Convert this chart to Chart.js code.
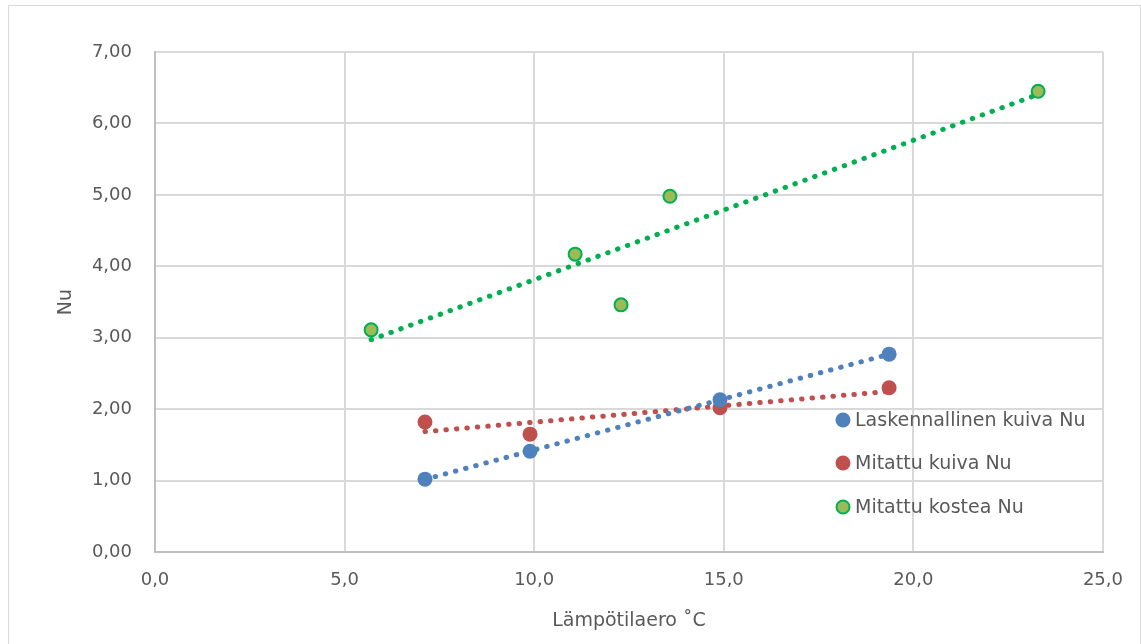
<!DOCTYPE html>
<html>
<head>
<meta charset="utf-8">
<script src="https://cdn.jsdelivr.net/npm/chart.js@4/dist/chart.umd.min.js"></script>
<style>
    body { margin: 0; background: #fff; }
    #frame { position: absolute; left: 8px; top: 5px; width: 1131px; height: 660px; border: 1px solid #d9d9d9; }
    #wrap { position: absolute; left: 0; top: 0; width: 1141px; height: 644px; }
</style>
</head>
<body>
<div id="frame"></div>
<div id="wrap"><canvas id="chart" width="1141" height="644"></canvas></div>
<script>
// series names
const seriesNames = ["Laskennallinen kuiva Nu", "Mitattu kuiva Nu", "Mitattu kostea Nu"];

// Laskennallinen kuiva Nu
const calcX = [7.12, 9.89, 14.90, 19.36];
const calcY = [1.02, 1.41, 2.13, 2.77];

// Mitattu kuiva Nu
const dryX = [7.12, 9.89, 14.90, 19.36];
const dryY = [1.82, 1.65, 2.02, 2.30];

// Mitattu kostea Nu
const wetX = [5.70, 11.08, 12.29, 13.58, 23.29];
const wetY = [3.11, 4.17, 3.46, 4.98, 6.45];

// axes
const xTicks = [0, 5, 10, 15, 20, 25];
const yTicks = [0, 1, 2, 3, 4, 5, 6, 7];
const xTitle = "Lämpötilaero ˚C";
const yTitle = "Nu";

const textColor = "#595959";
const fontFamily = "'DejaVu Sans', sans-serif";

function toPoints(xs, ys) {
    return xs.map((x, i) => ({ x: x, y: ys[i] }));
}

// linear trendline (least squares), over the range of the data like Excel
function trend(xs, ys) {
    let n = xs.length;
    let mx = xs.reduce((a, b) => a + b, 0) / n;
    let my = ys.reduce((a, b) => a + b, 0) / n;
    let sxy = 0, sxx = 0;
    for (let i = 0; i < n; i++) {
        sxy += (xs[i] - mx) * (ys[i] - my);
        sxx += (xs[i] - mx) * (xs[i] - mx);
    }
    let k = sxy / sxx;
    let x0 = Math.min(...xs), x1 = Math.max(...xs);
    return [{ x: x0, y: my + k * (x0 - mx) }, { x: x1, y: my + k * (x1 - mx) }];
}

function trendSet(points, color) {
    return {
        type: "line",
        data: points,
        showLine: true,
        borderColor: color,
        borderWidth: 5,
        borderDash: [0.5, 10],
        borderCapStyle: "round",
        pointRadius: 0,
        pointHoverRadius: 0,
        fill: false,
        order: 2
    };
}

const colors = {
    calc: "#4f81bd",
    dry: "#c0504d",
    wetFill: "#9bbb59",
    wetLine: "#00b050"
};

const markers = [
    { fill: colors.calc, stroke: colors.calc, width: 0 },
    { fill: colors.dry, stroke: colors.dry, width: 0 },
    { fill: colors.wetFill, stroke: colors.wetLine, width: 2 }
];

// legend drawn inside the plot area, right side
const legendPlugin = {
    id: "insideLegend",
    afterDraw(chart) {
        let ctx = chart.ctx;
        let x = 843;
        let rows = [420, 463, 507];
        ctx.save();
        ctx.font = "19px " + fontFamily;
        ctx.textBaseline = "middle";
        ctx.textAlign = "left";
        for (let i = 0; i < seriesNames.length; i++) {
            let m = markers[i];
            ctx.beginPath();
            ctx.arc(x, rows[i], m.width ? 6.5 : 7.5, 0, Math.PI * 2);
            ctx.fillStyle = m.fill;
            ctx.fill();
            if (m.width) {
                ctx.lineWidth = m.width;
                ctx.strokeStyle = m.stroke;
                ctx.stroke();
            }
            ctx.fillStyle = textColor;
            ctx.fillText(seriesNames[i], 855, rows[i] + 1);
        }
        ctx.restore();
    }
};

const fmtX = v => v.toFixed(1).replace(".", ",");
const fmtY = v => v.toFixed(2).replace(".", ",");

new Chart(document.getElementById("chart").getContext("2d"), {
    type: "scatter",
    data: {
        datasets: [
            {
                label: seriesNames[0],
                data: toPoints(calcX, calcY),
                pointRadius: 7.5,
                pointBackgroundColor: colors.calc,
                pointBorderColor: colors.calc,
                pointBorderWidth: 0,
                order: 1
            },
            {
                label: seriesNames[1],
                data: toPoints(dryX, dryY),
                pointRadius: 7.5,
                pointBackgroundColor: colors.dry,
                pointBorderColor: colors.dry,
                pointBorderWidth: 0,
                order: 1
            },
            {
                label: seriesNames[2],
                data: toPoints(wetX, wetY),
                pointRadius: 6.5,
                pointBackgroundColor: colors.wetFill,
                pointBorderColor: colors.wetLine,
                pointBorderWidth: 2,
                order: 1
            },
            trendSet(trend(calcX, calcY), colors.calc),
            trendSet(trend(dryX, dryY), colors.dry),
            trendSet(trend(wetX, wetY), colors.wetLine)
        ]
    },
    options: {
        responsive: false,
        animation: false,
        devicePixelRatio: 1,
        layout: { padding: { left: 0, top: 52, right: 38, bottom: 0 } },
        plugins: {
            legend: { display: false },
            tooltip: { enabled: false }
        },
        scales: {
            x: {
                type: "linear",
                min: 0,
                max: 25,
                afterBuildTicks: axis => { axis.ticks = xTicks.map(v => ({ value: v })); },
                afterFit: axis => { axis.height = 92; },
                grid: { color: "#d9d9d9", lineWidth: 2, drawTicks: false },
                border: { color: "#bfbfbf", width: 2 },
                ticks: {
                    color: textColor,
                    font: { family: fontFamily, size: 18 },
                    padding: 18,
                    callback: v => fmtX(v)
                },
                title: {
                    display: true,
                    text: xTitle,
                    color: textColor,
                    font: { family: fontFamily, size: 19 },
                    padding: { top: 0, bottom: 12 }
                }
            },
            y: {
                type: "linear",
                min: 0,
                max: 7,
                afterBuildTicks: axis => { axis.ticks = yTicks.map(v => ({ value: v })); },
                afterFit: axis => { axis.width = 155; },
                grid: { color: "#d9d9d9", lineWidth: 2, drawTicks: false },
                border: { color: "#bfbfbf", width: 2 },
                ticks: {
                    color: textColor,
                    font: { family: fontFamily, size: 18 },
                    padding: 23,
                    callback: v => fmtY(v)
                },
                title: {
                    display: true,
                    text: yTitle,
                    color: textColor,
                    font: { family: fontFamily, size: 19 },
                    padding: { top: 55, bottom: 0 }
                }
            }
        }
    },
    plugins: [legendPlugin]
});
</script>
</body>
</html>
